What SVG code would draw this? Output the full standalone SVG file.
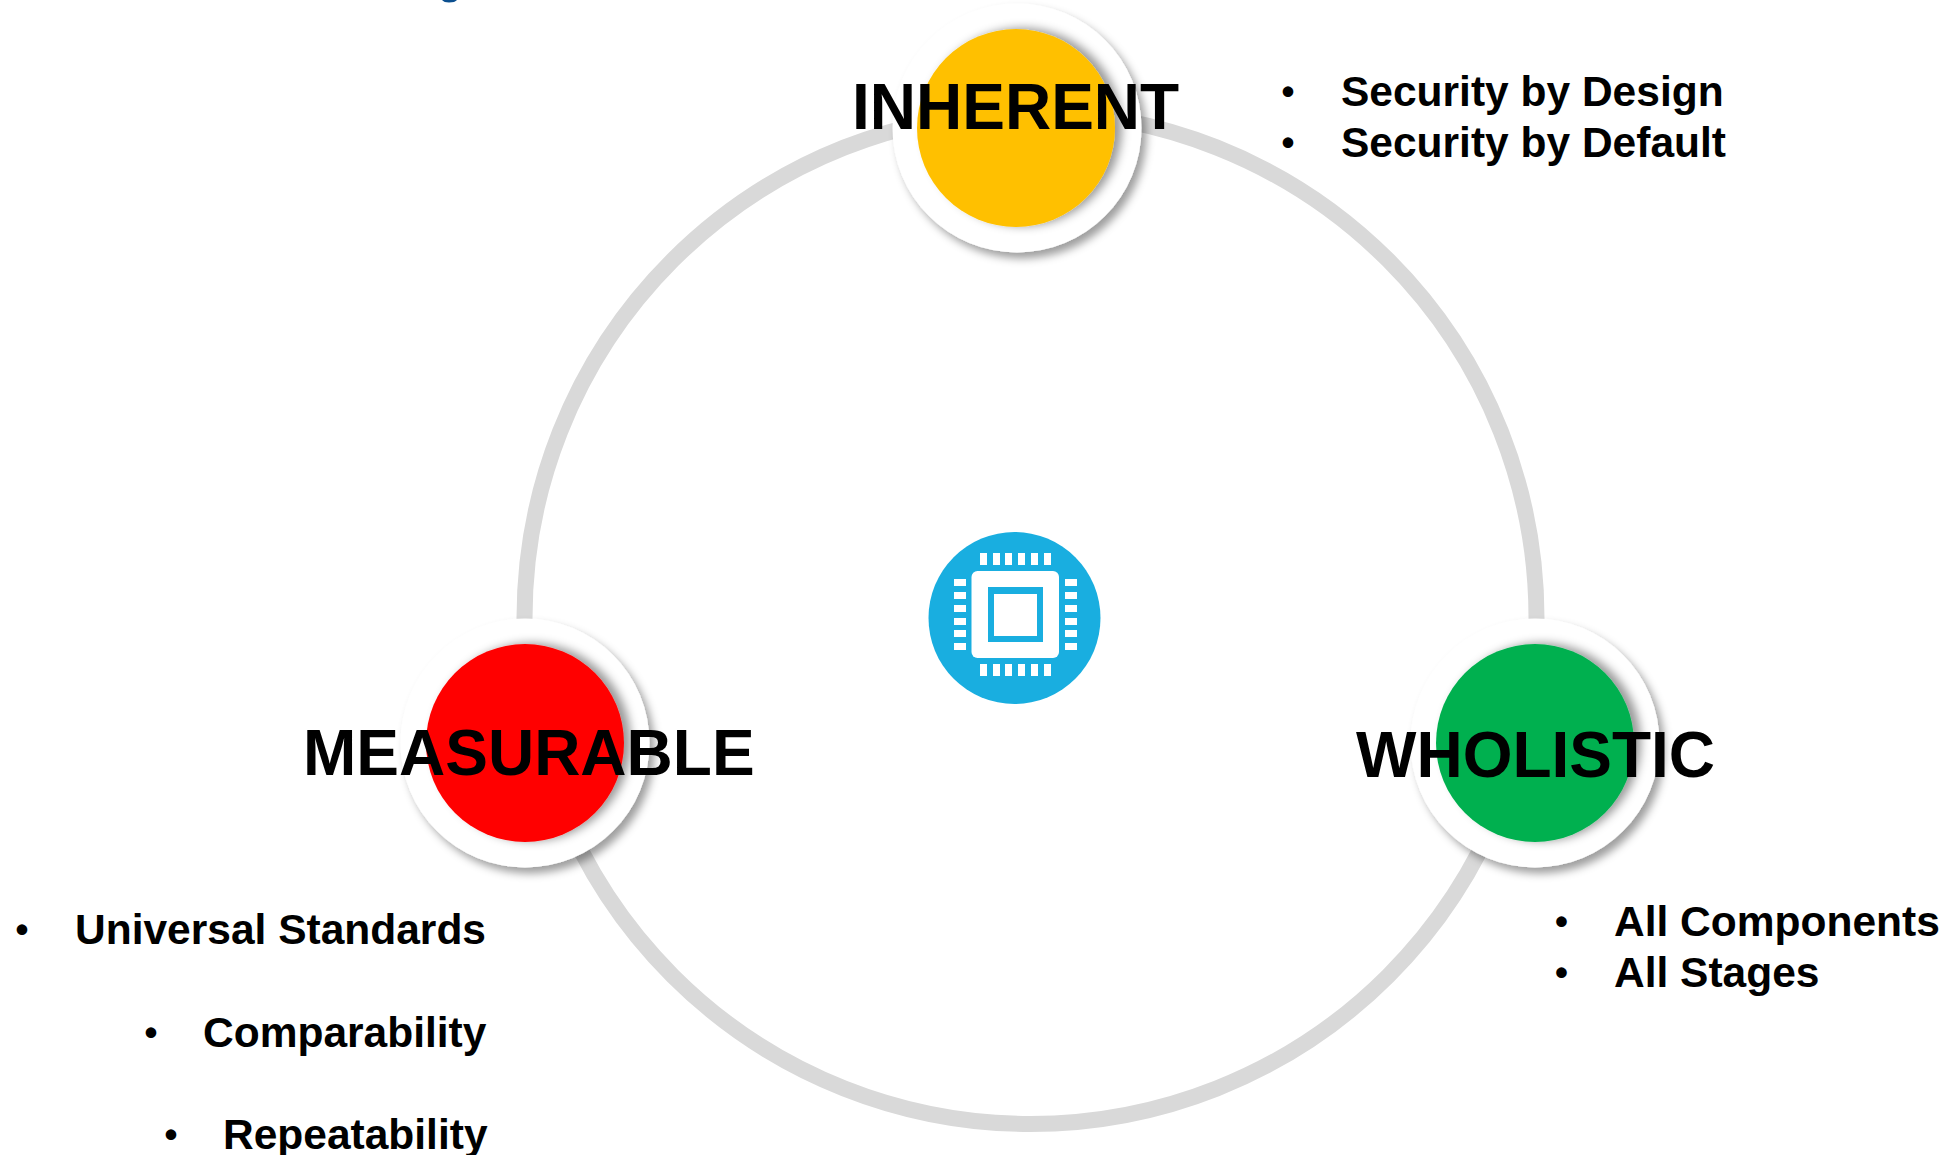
<svg xmlns="http://www.w3.org/2000/svg" width="1952" height="1155" viewBox="0 0 1952 1155">
<style>
text{font-family:"Liberation Sans",Arial,sans-serif;font-weight:700;fill:#000}
.h{font-size:64px}
.b{font-size:42.500px}
.d{font-size:37px}
.halo{fill:#fff;filter:url(#outer)}
.core{filter:url(#inner)}
.ic{fill:#fff}
</style>
<defs>
<filter id="outer" x="-20%" y="-20%" width="140%" height="140%"><feDropShadow dx="5" dy="6" stdDeviation="4" flood-color="#000" flood-opacity="0.38"/></filter>
<filter id="inner" x="-20%" y="-20%" width="140%" height="140%"><feDropShadow dx="7" dy="-1" stdDeviation="5" flood-color="#000" flood-opacity="0.4"/></filter>
</defs>
<rect width="1952" height="1155" fill="#fff"/>
<path d="M442 0h15q-2 2.500-8 2.500q-5 0-7-2.500z" fill="#0b4f8f"/>
<g id="connectors"><circle cx="1030.500" cy="618" r="506" fill="none" stroke="#d9d9d9" stroke-width="16"/></g>
<g id="node-inherent"><circle class="halo" cx="1017" cy="128" r="124.500"/><circle class="core" cx="1016" cy="128" r="99" fill="#ffc000"/></g>
<g id="node-measurable"><circle class="halo" cx="525" cy="743" r="124.500"/><circle class="core" cx="525" cy="743" r="99" fill="#ff0000"/></g>
<g id="node-wholistic"><circle class="halo" cx="1535" cy="743" r="124.500"/><circle class="core" cx="1535" cy="743" r="99" fill="#00b050"/></g>
<g id="node-chip">
<circle cx="1014.500" cy="618" r="86" fill="#19aee0"/>
<rect class="ic" x="971.500" y="571" width="87.500" height="87" rx="6"/>
<rect x="988" y="587" width="55" height="55" fill="#19aee0"/>
<rect class="ic" x="994" y="594" width="43" height="42"/>
<g class="ic">
<rect x="980" y="553" width="7" height="12"/><rect x="993" y="553" width="7" height="12"/><rect x="1005" y="553" width="7" height="12"/><rect x="1018" y="553" width="7" height="12"/><rect x="1031" y="553" width="7" height="12"/><rect x="1044" y="553" width="7" height="12"/>
<rect x="980" y="664" width="7" height="12"/><rect x="993" y="664" width="7" height="12"/><rect x="1005" y="664" width="7" height="12"/><rect x="1018" y="664" width="7" height="12"/><rect x="1031" y="664" width="7" height="12"/><rect x="1044" y="664" width="7" height="12"/>
<rect x="954" y="579" width="12" height="7"/><rect x="954" y="592" width="12" height="7"/><rect x="954" y="605" width="12" height="7"/><rect x="954" y="618" width="12" height="7"/><rect x="954" y="630" width="12" height="7"/><rect x="954" y="643" width="12" height="7"/>
<rect x="1065" y="579" width="12" height="7"/><rect x="1065" y="592" width="12" height="7"/><rect x="1065" y="605" width="12" height="7"/><rect x="1065" y="618" width="12" height="7"/><rect x="1065" y="630" width="12" height="7"/><rect x="1065" y="643" width="12" height="7"/>
</g>
</g>
<g id="labels">
<text class="h" x="852" y="129">INHERENT</text>
<text class="h" x="303" y="775">MEASURABLE</text>
<text class="h" x="1356" y="777">WHOLISTIC</text>
<text class="d" x="1281.500" y="104">•</text><text class="b" x="1341" y="106">Security by Design</text>
<text class="d" x="1281.500" y="155">•</text><text class="b" x="1341" y="157">Security by Default</text>
<text class="d" x="1555" y="934">•</text><text class="b" x="1614" y="936">All Components</text>
<text class="d" x="1555" y="985">•</text><text class="b" x="1614" y="987">All Stages</text>
<text class="d" x="15.500" y="942">•</text><text class="b" x="75" y="944">Universal Standards</text>
<text class="d" x="144.500" y="1045">•</text><text class="b" x="203" y="1047">Comparability</text>
<text class="d" x="164.500" y="1147">•</text><text class="b" x="223" y="1149">Repeatability</text>
</g>
</svg>
